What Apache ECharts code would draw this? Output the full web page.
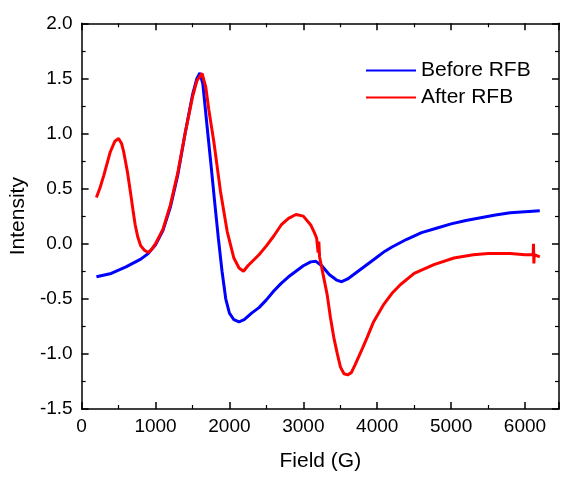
<!DOCTYPE html>
<html>
<head>
<meta charset="utf-8">
<script src="https://cdn.jsdelivr.net/npm/echarts@6/dist/echarts.min.js"></script>
<style>html,body{margin:0;padding:0;background:#fff}#c{width:561px;height:477px}</style>
</head>
<body>
<div id="c"></div>
<script>
// Field (G) and intensity for "Before RFB"
const fieldBefore = [200,400,600,800,900,1000,1100,1200,1300,1400,1500,1560,1600,1640,1700,1750,1800,1850,1900,1950,2000,2060,2130,2200,2300,2400,2500,2600,2700,2800,2900,3000,3100,3170,3250,3350,3450,3520,3600,3700,3800,3900,4000,4100,4200,4400,4600,4800,5000,5200,5400,5600,5800,6000,6200];
const intensityBefore = [-0.30,-0.27,-0.21,-0.14,-0.09,-0.01,0.12,0.33,0.62,1.00,1.35,1.50,1.55,1.45,1.05,0.72,0.38,0.05,-0.25,-0.50,-0.63,-0.69,-0.71,-0.69,-0.63,-0.58,-0.51,-0.43,-0.36,-0.30,-0.25,-0.20,-0.165,-0.16,-0.20,-0.28,-0.33,-0.345,-0.32,-0.27,-0.22,-0.17,-0.12,-0.07,-0.03,0.04,0.10,0.14,0.18,0.21,0.235,0.26,0.28,0.29,0.30];
// Field (G) and intensity for "After RFB"
const fieldAfter = [200,250,300,386,450,500,540,570,620,660,700,725,760,800,850,900,950,1000,1100,1200,1300,1400,1500,1560,1630,1680,1720,1790,1880,1970,2060,2130,2190,2250,2400,2500,2600,2700,2800,2900,3000,3100,3150,3180,3200,3210,3220,3277,3322,3367,3412,3460,3503,3550,3600,3650,3700,3800,3864,3950,4089,4200,4316,4500,4767,5038,5300,5500,5800,6000,6110,6115,6120,6125,6200];
const intensityAfter = [0.42,0.51,0.62,0.83,0.93,0.955,0.91,0.83,0.65,0.47,0.28,0.17,0.06,-0.02,-0.06,-0.08,-0.05,0.00,0.13,0.35,0.64,1.00,1.33,1.48,1.545,1.42,1.22,0.92,0.47,0.11,-0.13,-0.22,-0.25,-0.20,-0.10,-0.02,0.07,0.17,0.23,0.265,0.25,0.17,0.10,0.05,-0.08,0.02,-0.12,-0.31,-0.46,-0.67,-0.85,-1.00,-1.12,-1.18,-1.19,-1.17,-1.10,-0.95,-0.85,-0.71,-0.55,-0.45,-0.37,-0.27,-0.19,-0.13,-0.10,-0.09,-0.09,-0.10,-0.10,0.0,-0.18,-0.10,-0.12];

const xTicks = [0,1000,2000,3000,4000,5000,6000];
const yTicks = [-1.5,-1.0,-0.5,0.0,0.5,1.0,1.5,2.0];

const FONT = 'Liberation Sans';
const zip = (a,b) => a.map((v,i)=>[v,b[i]]);

const chart = echarts.init(document.getElementById('c'), null, {renderer:'canvas'});
const mk = () => ({
  axisLine:{show:true, onZero:false, lineStyle:{color:'#000', width:1.5}},
  axisTick:{show:true, inside:true, length:7, lineStyle:{color:'#000', width:1.5}},
  minorTick:{show:true, splitNumber:2, length:4, lineStyle:{color:'#000', width:1.2}},
  splitLine:{show:false}, minorSplitLine:{show:false}
});
chart.setOption({
  animation:false,
  backgroundColor:'#fff',
  textStyle:{fontFamily:FONT},
  grid:{left:81.5, right:2, top:23.3, bottom:65.3, containLabel:false},
  legend:{
    left:361, top:55, orient:'vertical', itemWidth:50, itemHeight:2, itemGap:6,
    icon:'rect',
    textStyle:{fontFamily:FONT, fontSize:21, color:'#000'},
    data:['Before RFB','After RFB']
  },
  xAxis:[
    Object.assign(mk(), {type:'value', position:'bottom', min:0, max:6460, interval:1000,
      name:'Field (G)', nameLocation:'middle', nameGap:42,
      nameTextStyle:{fontFamily:FONT, fontSize:21, color:'#000'},
      axisLabel:{fontFamily:FONT, fontSize:19, color:'#000', margin:8,
        showMaxLabel:false, formatter: v => xTicks.includes(v) ? String(v) : ''}}),
    Object.assign(mk(), {type:'value', position:'top', min:0, max:6460, interval:1000,
      axisLabel:{show:false}})
  ],
  yAxis:[
    Object.assign(mk(), {type:'value', position:'left', min:-1.5, max:2.0, interval:0.5,
      name:'Intensity', nameLocation:'middle', nameGap:52,
      nameTextStyle:{fontFamily:FONT, fontSize:21, color:'#000'},
      axisLabel:{fontFamily:FONT, fontSize:19, color:'#000', margin:9,
        formatter: v => yTicks.some(t=>Math.abs(t-v)<1e-9) ? v.toFixed(1) : ''}}),
    Object.assign(mk(), {type:'value', position:'right', min:-1.5, max:2.0, interval:0.5,
      axisLabel:{show:false}})
  ],
  series:[
    {name:'Before RFB', type:'line', data:zip(fieldBefore,intensityBefore), symbol:'none',
      lineStyle:{color:'#0000ff', width:3}, itemStyle:{color:'#0000ff'}, z:2},
    {name:'After RFB', type:'line', data:zip(fieldAfter,intensityAfter), symbol:'none',
      lineStyle:{color:'#ff0000', width:3}, itemStyle:{color:'#ff0000'}, z:3}
  ]
});
</script>
</body>
</html>
